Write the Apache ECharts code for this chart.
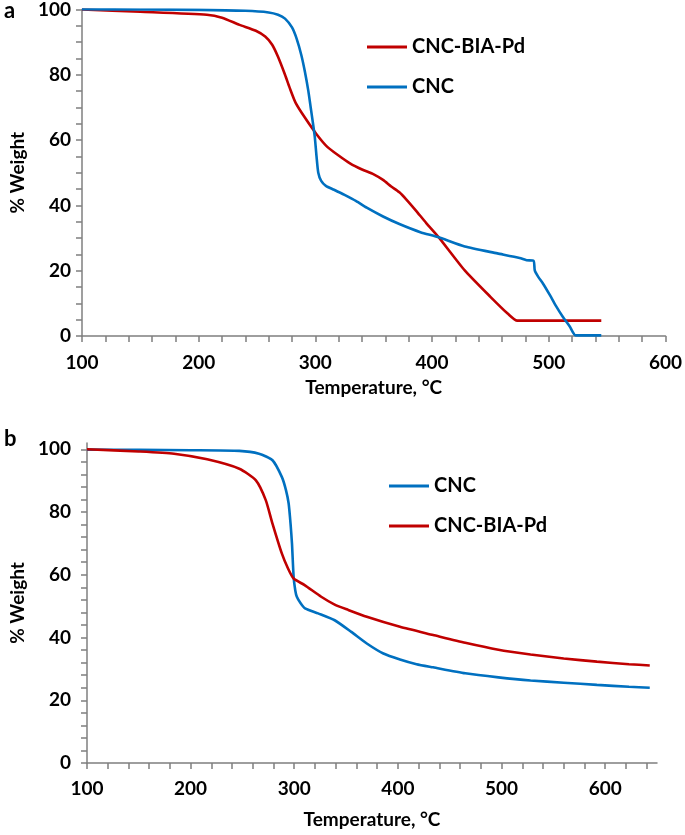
<!DOCTYPE html>
<html>
<head>
<meta charset="utf-8">
<script src="https://cdn.jsdelivr.net/npm/echarts@6/dist/echarts.min.js"></script>
<style>html,body{margin:0;padding:0;background:#fff}#c{width:685px;height:835px}</style>
</head>
<body>
<div id="c"></div>
<script>
// Panel a
const tempA_CNC = [100,150,200,240,260,268,274,280,284,288,291,294,296,298,299.5,301,302.5,305,309,316,325,335,344,358,372,390,405,428,456,475,481,487,488,491,495,501,506,512,518,523,545];
const weightA_CNC = [100.1,100,99.9,99.6,99.1,98.4,97.2,94.5,91,86,81,75,70,65,61,55,50,47.5,46,44.8,43.2,41.3,39.3,36.6,34.3,31.8,30.3,27.4,25.3,23.9,23.2,23,20.1,18.1,16.1,12.5,9.3,5.9,2.9,0.2,0.2];
const tempA_Pd = [100,150,207,220,235,249,257,263,268,274,278,283,291,301,310,319,330,340,350,358,365,372,378,386,395,405.6,428,450,465,473,545];
const weightA_Pd = [100,99.3,98.4,97.5,95.3,93.5,91.7,89.2,85.5,80,76,71.5,66.9,61.8,58,55.5,52.8,51,49.5,47.8,45.8,44,41.8,38.5,34.6,30.3,20.1,12,6.8,4.7,4.7];
// Panel b
const tempB_CNC = [100,150,200,247,266,279,288,292,294.6,296.5,297.8,299.4,301,302.5,306,310.4,323,339,355,370,386,402,418,434,465,497,528,560,592,623,643];
const weightB_CNC = [99.9,99.8,99.7,99.5,98.6,96.5,91.2,87,82.7,76,70,59.3,55,53,51,49.3,47.7,45.5,41.8,38.1,34.9,33,31.5,30.5,28.6,27.3,26.3,25.6,24.9,24.3,24];
const tempB_Pd = [100,150,184,216,247,263,272.5,279,288,294,299.4,310,326,339,352,370,402,434,465,497,528,560,592,623,643];
const weightB_Pd = [100,99.3,98.6,96.8,93.8,90.1,83.8,76.3,66.8,62,58.8,56.7,53,50.5,48.8,46.6,43.4,40.8,38.3,36.1,34.6,33.3,32.3,31.5,31.1];

const xTicksA = [100,200,300,400,500,600];
const yTicksA = [0,20,40,60,80,100];
const xTicksB = [100,200,300,400,500,600];
const yTicksB = [0,20,40,60,80,100];

const RED = '#C00000', BLUE = '#0070C0';
const FONT = 'Lato';
function range(a,b,s){const r=[];for(let v=a;v<=b+1e-9;v+=s)r.push(v);return r;}
const zip = (xs,ys)=>xs.map((x,i)=>[x,ys[i]]);

const axisLine = {show:true, lineStyle:{color:'#7f7f7f', width:1.5}};
const labelStyle = {color:'#000', fontFamily:FONT, fontWeight:'bold', fontSize:19};
const nameStyle = {color:'#000', fontFamily:FONT, fontWeight:'bold', fontSize:19};

function xAxis(idx, min, max, labels, minorStep, margin, gap){
  return {type:'value', gridIndex:idx, min, max,
    axisLine, splitLine:{show:false},
    axisTick:{show:true, inside:false, length:6, lineStyle:{color:'#7f7f7f', width:1.5}, customValues: range(min, Math.floor(max/minorStep)*minorStep, minorStep)},
    axisLabel:Object.assign({margin, customValues: labels}, labelStyle),
    name:'Temperature, °C', nameLocation:'middle', nameGap:gap, nameTextStyle:nameStyle};
}
function yAxis(idx, min, max, labels, minorStep, margin, gap){
  return {type:'value', gridIndex:idx, min, max,
    axisLine, splitLine:{show:false},
    axisTick:{show:true, inside:false, length:6, lineStyle:{color:'#7f7f7f', width:1.5}, customValues: range(0, 100, minorStep)},
    axisLabel:Object.assign({margin, customValues: labels}, labelStyle),
    name:'% Weight', nameLocation:'middle', nameGap:gap, nameRotate:90, nameTextStyle:nameStyle};
}
function line(name, color, xi, data){
  return {type:'line', name, xAxisIndex:xi, yAxisIndex:xi, data, showSymbol:false, symbol:'none',
    smooth:0.2, lineStyle:{color, width:2.6}, itemStyle:{color}, z:3};
}
const legendText = {color:'#000', fontFamily:FONT, fontWeight:'bold', fontSize:20, lineHeight:24};

const option = {
  animation:false,
  backgroundColor:'#fff',
  grid:[
    {left:72, top:8, width:597, height:328},
    {left:78, top:443, width:579, height:320}
  ],
  xAxis:[xAxis(0,100,600,xTicksA,20,17,42), xAxis(1,100,650,xTicksB,20,16,47)],
  yAxis:[yAxis(0,0,100,yTicksA,5,11,53), yAxis(1,0,102,yTicksB,4,16,59)],
  legend:[
    {orient:'vertical', left:362, top:30, itemWidth:40, itemHeight:3, itemGap:16, icon:'rect', data:['CNC-BIA-Pd','CNC'], textStyle:legendText, selectedMode:false},
    {orient:'vertical', left:384, top:469, itemWidth:40, itemHeight:3, itemGap:16, icon:'rect', data:['CNC ','CNC-BIA-Pd '], textStyle:legendText, selectedMode:false, formatter: n=>n.trim()}
  ],
  graphic:[
    {type:'text', left:4, top:0, style:{text:'a', font:'bold 22px '+FONT, fill:'#000'}},
    {type:'text', left:4, top:428, style:{text:'b', font:'bold 22px '+FONT, fill:'#000'}}
  ],
  series:[
    line('CNC-BIA-Pd', RED, 0, zip(tempA_Pd, weightA_Pd)),
    line('CNC', BLUE, 0, zip(tempA_CNC, weightA_CNC)),
    line('CNC ', BLUE, 1, zip(tempB_CNC, weightB_CNC)),
    line('CNC-BIA-Pd ', RED, 1, zip(tempB_Pd, weightB_Pd))
  ]
};
const chart = echarts.init(document.getElementById('c'), null, {renderer:'canvas'});
chart.setOption(option);
</script>
</body>
</html>
